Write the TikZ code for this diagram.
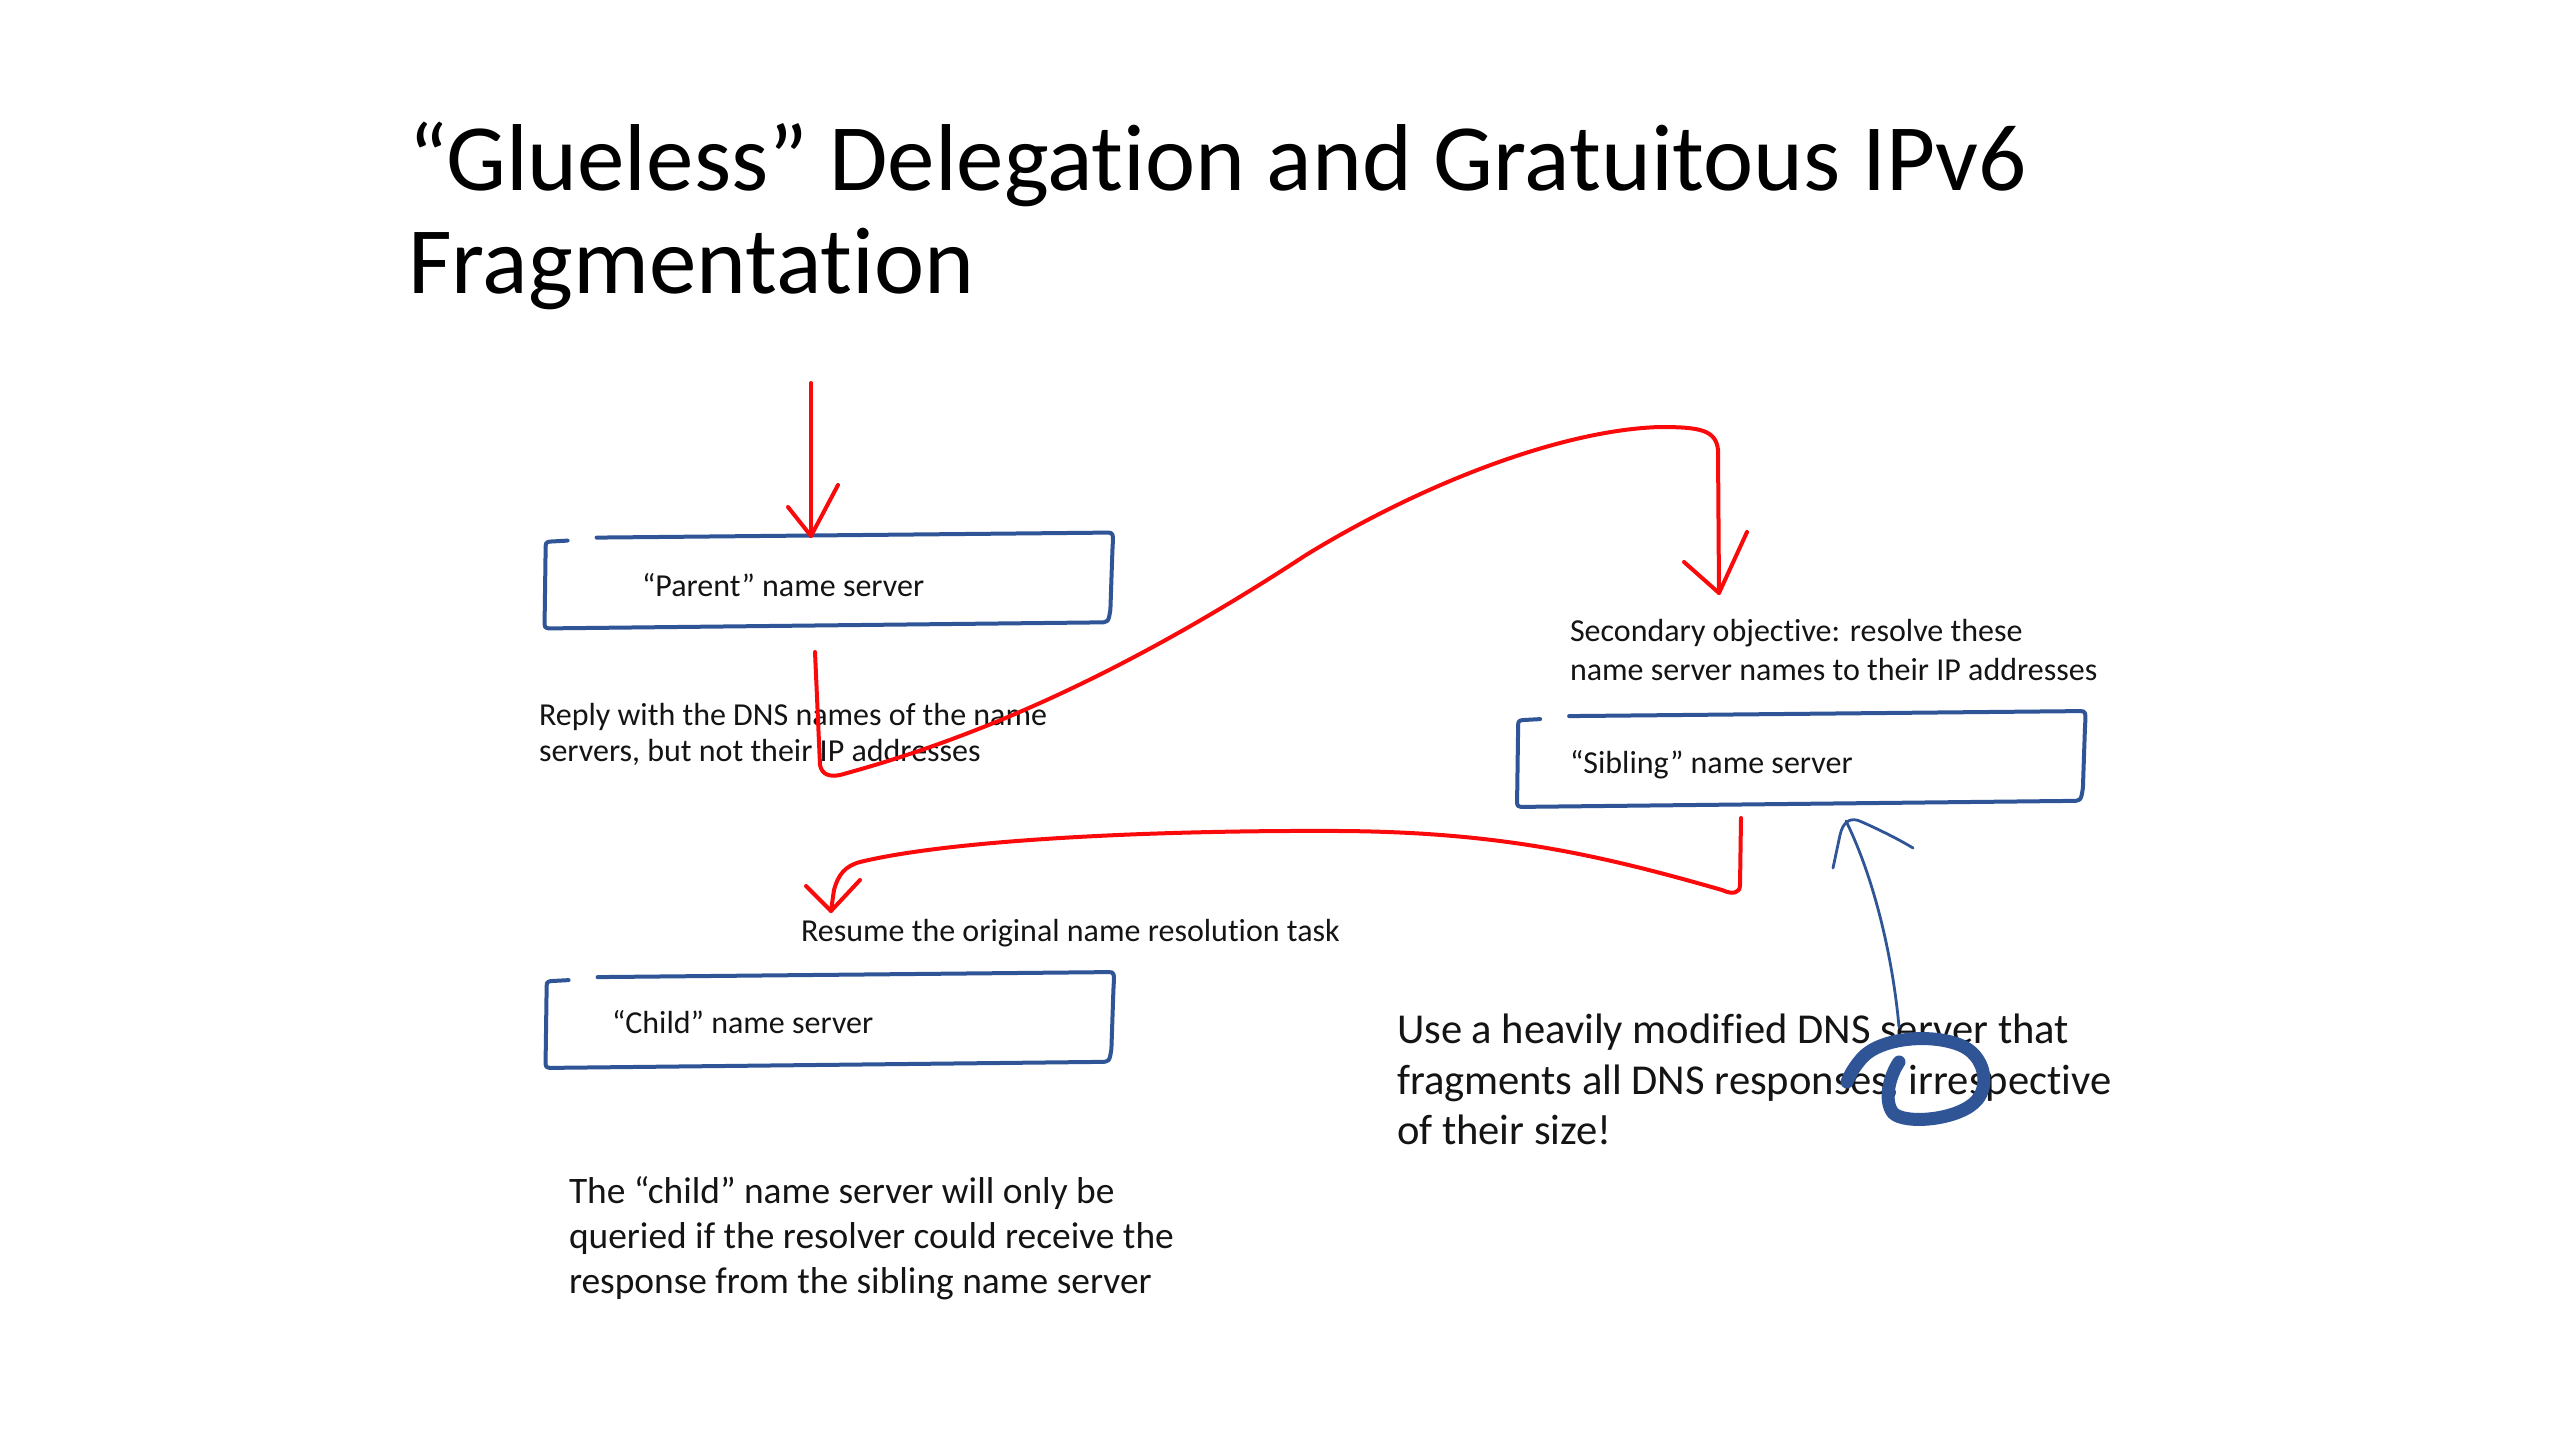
\documentclass[tikz,border=0pt]{standalone}
\usepackage{fontspec}
\setmainfont{Carlito}[Ligatures=NoCommon]
\usetikzlibrary{calc}
\definecolor{inkblue}{RGB}{47,85,151}
\definecolor{inkred}{RGB}{250,10,10}
\definecolor{txt}{RGB}{20,20,20}
\tikzset{
 lbl/.style={anchor=base west, inner sep=0pt, outer sep=0pt, text=txt},
 txtS/.style={lbl, font=\fontsize{16}{19}\selectfont},
 txtM/.style={lbl, font=\fontsize{18.7}{22}\selectfont},
 txtL/.style={lbl, font=\fontsize{21.3}{25}\selectfont},
 txtT/.style={lbl, text=black, font=\fontsize{47.5}{52}\selectfont},
 sbox/.style={draw=none, inner sep=0pt, minimum width=282.5pt, minimum height=45pt},
 boxline/.style={draw=inkblue, line width=2pt, line cap=round, line join=round},
 redink/.style={draw=inkred, line width=2pt, line cap=round, line join=round},
 blueink/.style={draw=inkblue, line width=1.4pt, line cap=round, line join=round},
 circink/.style={draw=inkblue, line width=6.5pt, line cap=round, line join=round},
}
\newcommand\sketchbox[1]{%
 \draw[boxline] ($(#1.north west)+(23,6)$) -- ($(#1.north west)+(5,7)$)
   .. controls ($(#1.north west)+(1,8)$) .. ($(#1.north west)+(1,16)$)
   -- ($(#1.south west)+(0,-4)$) .. controls ($(#1.south west)+(0,2)$) .. ($(#1.south west)+(4,3)$)
   -- ($(#1.south east)+(-12,-3)$) .. controls ($(#1.south east)+(-2,-3)$) .. ($(#1.south east)+(0,-16)$)
   -- ($(#1.north east)+(2,16)$) .. controls ($(#1.north east)+(3,-2)$) .. ($(#1.north east)+(-3,-2)$)
   -- ($(#1.north west)+(52,3)$);
}
\begin{document}
\begin{tikzpicture}[x=0.5pt,y=-0.5pt]
\useasboundingbox (0,0) rectangle (2560,1440);
\fill[white] (0,0) rectangle (2560,1440);

% title
\node[txtT] (title1) at (408,190) {“Glueless” Delegation and Gratuitous IPv6};
\node[txtT] (title2) at (408,293) {Fragmentation};

% boxes
\node[sbox] (parent) at (827.5,580) {};
\node[sbox] (sibling) at (1800,758.5) {};
\node[sbox] (child) at (828.5,1019.5) {};
\sketchbox{parent}
\sketchbox{sibling}
\sketchbox{child}

% texts
\node[txtS] (ptext) at (642,596) {“Parent” name server};
\node[txtS] (stext) at (1570,773) {“Sibling” name server};
\node[txtS] (ctext) at (612,1033) {“Child” name server};
\node[txtS] (reply1) at (539,725) {Reply with the DNS names of the name};
\node[txtS] (reply2) at (539,761) {servers, but not their IP addresses};
\node[txtS] (sec1) at (1570,641) {Secondary objective: resolve these};
\node[txtS] (sec2) at (1570,680) {name server names to their IP addresses};
\node[txtS] (resume) at (801,941) {Resume the original name resolution task};
\node[txtM] (cd1) at (569,1203) {The “child” name server will only be};
\node[txtM] (cd2) at (569,1248) {queried if the resolver could receive the};
\node[txtM] (cd3) at (569,1293) {response from the sibling name server};
\node[txtL] (use1) at (1397,1043) {Use a heavily modified DNS server that};
\node[txtL] (use2) at (1397,1094) {fragments all DNS responses, irrespective};
\node[txtL] (use3) at (1397,1144) {of their size!};

% red arrow 1: into parent
\coordinate (r1s) at (811,383);
\coordinate (r1t) at (811,536);
\draw[redink] (r1s) -- (r1t);
\draw[redink] (788,507) -- (r1t) -- (838,485);

% red arrow 2: parent reply -> sibling
\coordinate (r2s) at (815,652);
\coordinate (r2t) at (1719,593);
\draw[redink] (r2s) -- (820,765) .. controls (822,775) and (830,777) .. (840,775)
  .. controls (950,745) and (1100,690) .. (1306,555)
  .. controls (1420,485) and (1560,430) .. (1660,427)
  .. controls (1700,427) and (1716,430) .. (1718,450) -- (r2t);
\draw[redink] (1684,562) -- (r2t) -- (1747,532);

% red arrow 3: sibling -> resume
\coordinate (r3s) at (1741,818);
\coordinate (r3t) at (831,911);
\draw[redink] (r3s) -- (1740,885) .. controls (1740,893) and (1733,895) .. (1722,890)
  .. controls (1600,855) and (1500,832) .. (1340,831)
  .. controls (1150,830) and (950,840) .. (860,862)
  .. controls (845,866) and (838,875) .. (834,890) -- (r3t);
\draw[redink] (806,886) -- (r3t) -- (860,880);

% blue arrow from circled comma to sibling
\coordinate (b1s) at (1899,1027);
\coordinate (b1t) at (1846,821);
\draw[blueink] (b1s) .. controls (1893,960) and (1875,880) .. (b1t);
\draw[blueink] (1833,868) -- (1840,835) .. controls (1843,822) and (1850,816) .. (1862,822)
  .. controls (1880,830) and (1900,840) .. (1913,848);

% blue thick loop
\draw[circink] (1899,1062) .. controls (1890,1075) and (1883,1100) .. (1893,1113)
  .. controls (1905,1125) and (1960,1120) .. (1977,1100)
  .. controls (1990,1085) and (1985,1055) .. (1960,1045)
  .. controls (1930,1033) and (1880,1038) .. (1862,1058)
  .. controls (1855,1066) and (1850,1074) .. (1847,1082);
\end{tikzpicture}
\end{document}
